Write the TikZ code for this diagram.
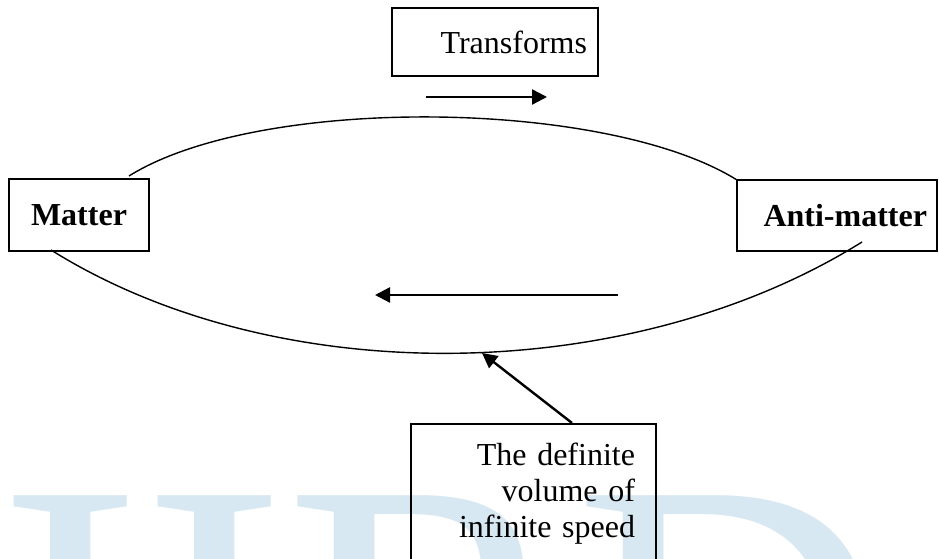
\documentclass[tikz,border=0pt]{standalone}
\usepackage{fontspec}
\setmainfont{Liberation Serif}
\usetikzlibrary{arrows.meta,positioning}
\definecolor{markblue}{RGB}{216,232,242}

\begin{document}
\begin{tikzpicture}[
    x=1pt, y=1pt,
    box/.style={rectangle, draw, line width=1.6pt, inner sep=0pt, font=\fontsize{32pt}{36pt}\selectfont},
    arrow/.style={-{Triangle[length=15pt,width=15pt]}, line width=2.4pt},
    orbit/.style={line width=1.4pt}
]
    \clip (0,0) rectangle (939,559);
    \node[anchor=base west, inner sep=0pt, text=markblue, font=\fontsize{432pt}{432pt}\selectfont] (mark) at (-2,-219) {IIRD};

    \node[box, minimum width=206pt, minimum height=68pt, text width=184pt, align=right] (transforms) at (495,517) {Transforms};
    \node[box, minimum width=140pt, minimum height=72pt] (matter) at (79,344) {\textbf{Matter}};
    \node[box, minimum width=200pt, minimum height=71pt, text width=180pt, align=right] (antimatter) at (837,343.5) {\textbf{Anti-matter}};
    \node[box, anchor=north, minimum width=245pt, text width=203pt, inner ysep=19pt, align=right] (volume) at (533.5,136) {The definite\\ volume of\\ infinite speed};

    \coordinate (upL) at (129,383);
    \coordinate (upR) at (737,379);
    \coordinate (lowL) at (51,309);
    \coordinate (lowR) at (862,317);
    \coordinate (fwdA) at (426,462);
    \coordinate (fwdB) at (547,462);
    \coordinate (backA) at (618,264);
    \coordinate (backB) at (375,264);
    \coordinate (hit) at (482,206);

    \draw[orbit] (upL) to[out=32, in=148, looseness=.645] (upR);
    \draw[orbit] (lowL) to[out=-32, in=-148, looseness=.85] (lowR);
    \draw[arrow] (fwdA) -- (fwdB);
    \draw[arrow] (backA) -- (backB);
    \draw[arrow] ([xshift=38.5pt]volume.north) -- (hit);
\end{tikzpicture}
\end{document}
